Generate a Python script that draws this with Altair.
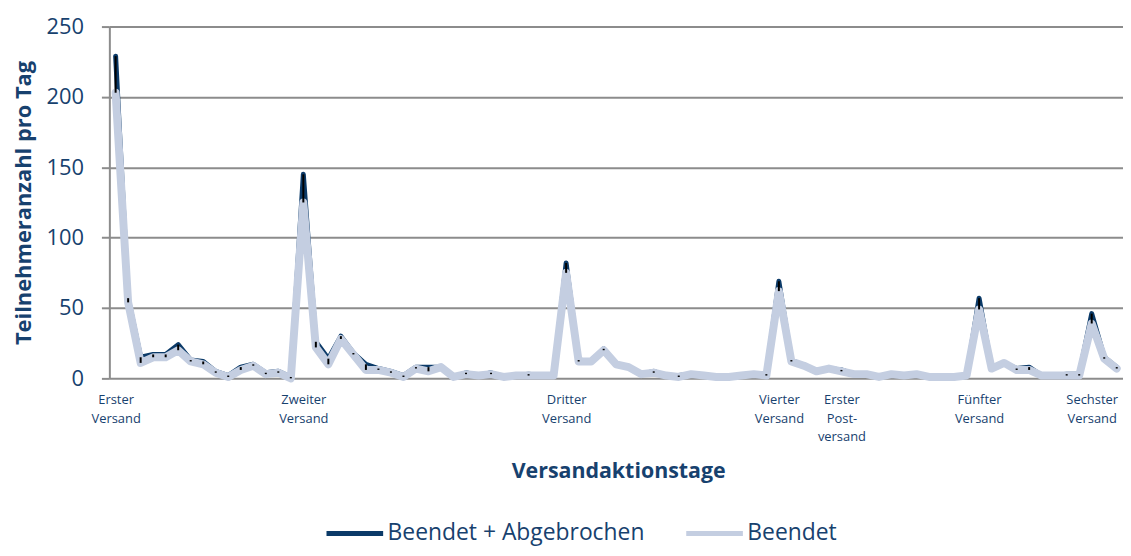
import json
import altair as alt
import pandas as pd

# ---- data ----
days = list(range(81))
beendet_abgebrochen = [
    229, 57, 15, 17, 17, 24, 13, 12, 5, 2,
    8, 10, 4, 5, 1, 145, 26, 14, 30, 18,
    10, 7, 5, 2, 8, 8, 8, 1, 4, 2,
    4, 1, 2, 3, 2, 2, 82, 13, 12, 21,
    10, 8, 3, 5, 2, 2, 3, 2, 1, 1,
    2, 3, 3, 69, 13, 9, 5, 7, 6, 3,
    3, 1, 3, 2, 3, 1, 1, 1, 2, 57,
    7, 11, 7, 8, 2, 2, 3, 3, 46, 15,
    8,
]
beendet = [
    203, 54, 11, 15, 15, 20, 12, 10, 4, 1,
    6, 9, 3, 4, 0, 125, 22, 10, 28, 17,
    6, 6, 4, 1, 7, 5, 8, 1, 3, 2,
    3, 1, 2, 2, 2, 2, 75, 12, 12, 20,
    10, 8, 3, 4, 2, 1, 3, 2, 1, 1,
    2, 3, 2, 62, 12, 9, 5, 7, 5, 3,
    3, 1, 3, 2, 3, 1, 1, 1, 2, 49,
    7, 11, 6, 6, 2, 2, 2, 2, 39, 14,
    7,
]
series_names = ["Beendet + Abgebrochen", "Beendet"]
tick_days = [0, 15, 36, 53, 58, 69, 78]
tick_labels = [
    ["Erster", "Versand"],
    ["Zweiter", "Versand"],
    ["Dritter", "Versand"],
    ["Vierter", "Versand"],
    ["Erster", "Post-", "versand"],
    ["Fünfter", "Versand"],
    ["Sechster", "Versand"],
]
y_ticks = [0, 50, 100, 150, 200, 250]

long_df = pd.DataFrame({
    "Tag": days + days,
    "Serie": [series_names[0]] * len(days) + [series_names[1]] * len(days),
    "Wert": beendet_abgebrochen + beendet,
})
wide_df = pd.DataFrame({"Tag": days, "hoch": beendet_abgebrochen, "tief": beendet})

TEXT = "#17416e"
GRID = "#8c8c8c"
DARK = "#0b3a68"
LIGHT = "#c4cee1"
FONT = "Open Sans"

label_expr = " : ".join(
    f"datum.value == {d} ? {json.dumps(l, ensure_ascii=False)}"
    for d, l in zip(tick_days, tick_labels)
) + " : ''"

x_axis = alt.Axis(
    values=tick_days, labelExpr=label_expr, title="Versandaktionstage",
    grid=False, ticks=False, tickSize=0, domain=False,
    labelFont=FONT, labelFontSize=13, labelLineHeight=19, labelPadding=15,
    labelColor=TEXT, labelOverlap=False, labelFlush=False, labelAlign="center",
    titleFont=FONT, titleFontSize=21.5, titleFontWeight="bold", titleColor=TEXT,
    titleX=512, titleY=94, titleAlign="center", titleBaseline="middle",
)
y_axis = alt.Axis(
    values=y_ticks, title="Teilnehmeranzahl pro Tag",
    grid=True, gridColor=GRID, gridWidth=2,
    domain=True, domainColor=GRID, domainWidth=2,
    ticks=True, tickColor=GRID, tickWidth=2, tickSize=8,
    labelFont=FONT, labelFontSize=22, labelPadding=18, labelColor=TEXT,
    titleFont=FONT, titleFontSize=22, titleFontWeight="bold", titleColor=TEXT,
    titleX=-86, titleY=177, titleAngle=270, titleAlign="center", titleBaseline="middle",
)

x_scale = alt.Scale(domain=[-0.5, 80.5], nice=False, zero=False)
y_scale = alt.Scale(domain=[0, 250], nice=False)

color = alt.Color(
    "Serie:N",
    scale=alt.Scale(domain=series_names, range=[DARK, LIGHT]),
    legend=alt.Legend(
        title=None, orient="none", legendX=216, legendY=479, direction="horizontal",
        symbolType="stroke", symbolSize=3249, symbolStrokeWidth=5,
        labelFont=FONT, labelFontSize=23, labelColor=TEXT, labelOffset=2,
        labelLimit=500, columnPadding=31, padding=0,
    ),
)

base = alt.Chart(long_df).encode(
    x=alt.X("Tag:Q", scale=x_scale, axis=x_axis),
    y=alt.Y("Wert:Q", scale=y_scale, axis=y_axis),
    color=color,
)

dark_line = base.transform_filter(alt.datum.Serie == series_names[0]).mark_line(
    strokeWidth=5, strokeCap="round", strokeJoin="round"
)
light_line = base.transform_filter(alt.datum.Serie == series_names[1]).mark_line(
    strokeWidth=8, strokeCap="round", strokeJoin="round"
)
hilo = alt.Chart(wide_df).transform_filter("datum.hoch > datum.tief").mark_rule(
    color="black", strokeWidth=2
).encode(
    x=alt.X("Tag:Q", scale=x_scale, axis=x_axis),
    y=alt.Y("hoch:Q", scale=y_scale, axis=y_axis),
    y2="tief:Q",
)

chart = alt.layer(dark_line, light_line, hilo).properties(
    width=1020, height=354,
    padding={"left": 102, "top": 17, "right": 0, "bottom": 169},
    autosize=alt.AutoSizeParams(type="none"),
    background="white",
).configure_view(stroke=None)

chart.save("out.html", embed_options={"renderer": "svg", "actions": False})
